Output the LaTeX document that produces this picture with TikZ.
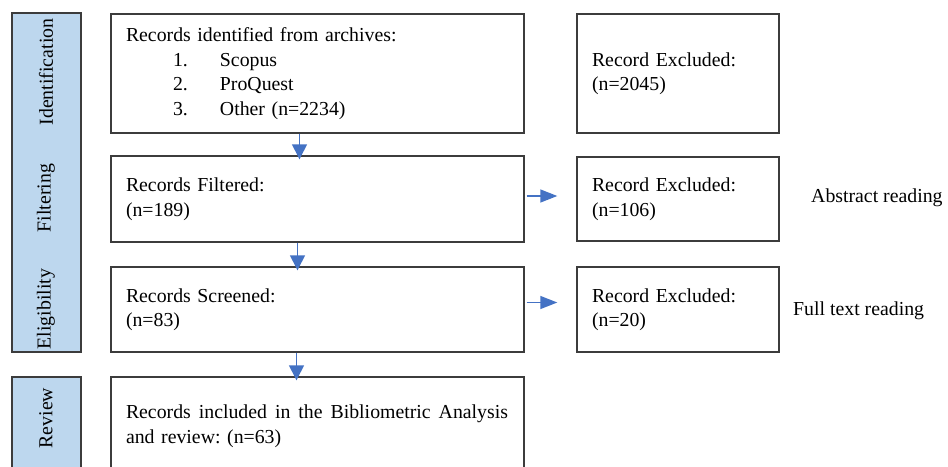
\documentclass[tikz,border=0pt]{standalone}
\usepackage{fontspec}
\setmainfont{Liberation Serif}
\usetikzlibrary{arrows.meta}
\definecolor{phasefill}{RGB}{189,215,238}
\definecolor{arrowblue}{RGB}{68,114,196}
\definecolor{boxline}{RGB}{60,60,60}
\frenchspacing
\tikzset{
  every node/.style={font=\fontsize{19.8}{24.5}\selectfont},
  box/.style={draw=boxline, line width=1.4pt, rectangle, inner xsep=15pt, inner ysep=0pt, align=left},
  phase/.style={draw=boxline, line width=1.4pt, fill=phasefill, rectangle, inner sep=0pt},
  phaselabel/.style={rotate=90, inner sep=0pt},
  flowarrow/.style={draw=arrowblue, line width=1.4pt, -{Triangle[width=15pt,length=15pt]}},
  sidearrow/.style={draw=arrowblue, line width=1.4pt, -{Triangle[width=13pt,length=17pt]}},
}
\begin{document}
\begin{tikzpicture}[x=1pt,y=-1pt]
\clip (0,0) rectangle (948,466);
\fill[white] (0,0) rectangle (948,466);
% phase column
\node[phase, minimum width=69pt, minimum height=339pt] (ph1) at (46.5,182.5) {};
\node[phase, minimum width=69pt, minimum height=110pt] (ph2) at (46.5,432) {};
\node[phaselabel] (lid) at (46,72) {Identification};
\node[phaselabel] (lfi) at (46,198) {Filtering};
\node[phaselabel] (lel) at (46,309) {Eligibility};
\node[phaselabel] (lre) at (46,418) {Review};
% main boxes
\node[box, text width=383pt, minimum height=119pt] (b1) at (317.5,73.5) {Records identified from archives:\\
\makebox[47pt]{}\makebox[47pt][l]{1.}Scopus\\
\makebox[47pt]{}\makebox[47pt][l]{2.}ProQuest\\
\makebox[47pt]{}\makebox[47pt][l]{3.}Other (n=2234)};
\node[box, text width=383pt, minimum height=86pt] (b2) at (317.5,199) {Records Filtered:\\(n=189)};
\node[box, text width=383pt, minimum height=85pt] (b3) at (317.5,309.5) {Records Screened:\\(n=83)};
\node[box, text width=383pt, minimum height=98pt] (b4) at (317.5,426) {\makebox[382pt][l]{Records\hfill included\hfill in\hfill the\hfill Bibliometric\hfill Analysis}\\and review: (n=63)};
% right boxes
\node[box, text width=172pt, minimum height=119pt] (r1) at (678,73.5) {Record Excluded:\\(n=2045)};
\node[box, text width=172pt, minimum height=84pt] (r2) at (678,199) {Record Excluded:\\(n=106)};
\node[box, text width=172pt, minimum height=85pt] (r3) at (678,309.5) {Record Excluded:\\(n=20)};
% side notes
\node[anchor=base west, inner sep=0pt] (n1) at (811,202) {Abstract reading};
\node[anchor=base west, inner sep=0pt] (n2) at (793,315) {Full text reading};
% arrows
\draw[flowarrow] ([xshift=-18pt]b1.south) -- ([xshift=-18pt,yshift=-4pt]b2.north);
\draw[flowarrow] ([xshift=-20pt]b2.south) -- ([xshift=-20pt,yshift=-4pt]b3.north);
\draw[flowarrow] ([xshift=-21pt]b3.south) -- ([xshift=-21pt,yshift=-4pt]b4.north);
\draw[sidearrow] ([xshift=2pt,yshift=3pt]b2.east) -- ([xshift=-19pt,yshift=3pt]r2.west);
\draw[sidearrow] ([xshift=2pt,yshift=7pt]b3.east) -- ([xshift=-19pt,yshift=7pt]r3.west);
\end{tikzpicture}
\end{document}
